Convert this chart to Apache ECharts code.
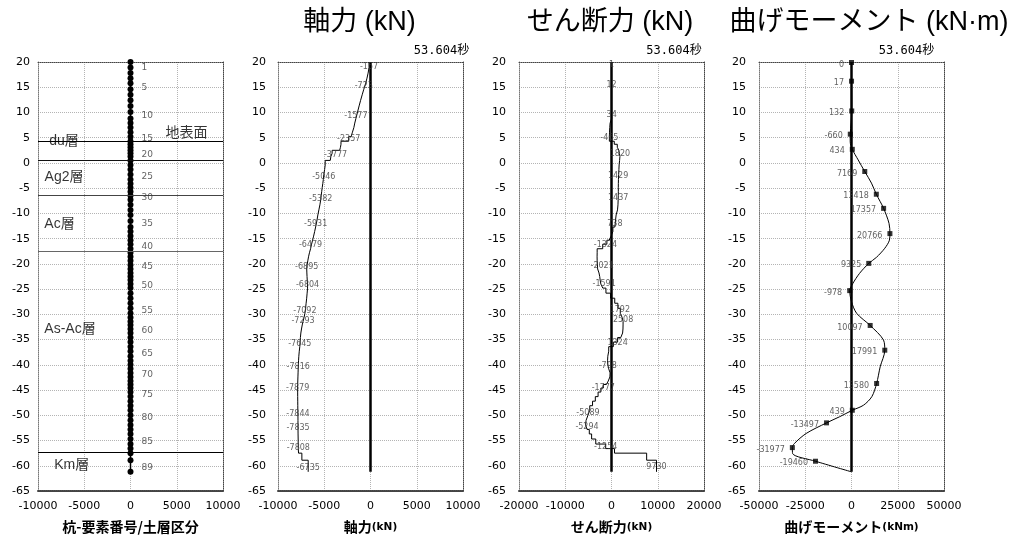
<!DOCTYPE html>
<html><head><meta charset="utf-8">
<script src="https://cdn.jsdelivr.net/npm/echarts@6/dist/echarts.min.js"></script>
<style>html,body{margin:0;padding:0;background:#fff}#c{width:1012px;height:539px}</style>
</head><body><div id="c"></div>
<script>
// ---------- data ----------
const yMin = -65, yMax = 20, yInterval = 5;
const panelTitles = ['軸力 (kN)', 'せん断力 (kN)', '曲げモーメント (kN·m)'];
const timeLabel = '53.604秒';

// node depths of the pile (m), 89 elements -> 90 nodes
const nodeDepths = [20, 18.9, 17.8, 16.8, 15.8, 14.6, 13.5, 12.4, 11.3, 10.1,
  8.8, 7.9, 7.0, 6.1, 5.2, 4.3, 3.7, 3.1, 2.5, 1.9,
  1.3, 0.5, -0.4, -1.3, -2.3, -3.3, -4.1, -4.9, -5.7, -6.5,
  -7.3, -8.3, -9.3, -10.3, -11.5, -12.7, -13.6, -14.5, -15.3, -16.1,
  -17.0, -17.8, -18.6, -19.4, -20.2, -21.0, -21.8, -22.5, -23.2, -24.0,
  -24.8, -25.8, -26.8, -27.8, -28.8, -29.8, -30.6, -31.4, -32.1, -32.9,
  -33.7, -34.6, -35.5, -36.4, -37.3, -38.3, -39.2, -40.0, -40.8, -41.6,
  -42.4, -43.2, -43.9, -44.6, -45.4, -46.3, -47.2, -48.1, -49.0, -50.0,
  -51.0, -51.9, -52.8, -53.7, -54.7, -55.7, -56.6, -57.5, -58.9, -61.2];

const elemLabelNos = [1, 5, 10, 15, 20, 25, 30, 35, 40, 45, 50, 55, 60, 65, 70, 75, 80, 85, 89];
const elemLabelDepths = [18.8, 14.9, 9.3, 4.75, 1.6, -2.8, -6.9, -12.1, -16.6, -20.6, -24.4, -29.3, -33.3, -37.8, -42.0, -45.9, -50.5, -55.2, -60.4];

const layerNames = ['du層', 'Ag2層', 'Ac層', 'As-Ac層', 'Km層'];
const layerLabelX = [-7190, -7190, -7680, -6540, -6360];
const layerLabelY = [4.35, -2.8, -12.1, -32.9, -59.85];
const layerTops = [4.3, 0.6, -6.4, -17.4, -57.3];
const layerLineColors = ['#000', '#111', '#444', '#666', '#000'];
const groundName = '地表面';
const groundX = 6050, groundY = 6.2;

// axial force per element (kN)
const axialVals = [-157, -260, -380, -520, -723, -900, -1070, -1230, -1400, -1577,
  -1700, -1800, -1950, -2100, -2357, -3190, -3250, -3333, -4150, -4280,
  -4350, -4900, -4960, -5046, -5100, -5160, -5220, -5280, -5330, -5382,
  -5470, -5580, -5690, -5800, -5931, -6040, -6150, -6260, -6370, -6479,
  -6600, -6700, -6780, -6850, -6895, -6880, -6860, -6840, -6820, -6804,
  -6850, -6900, -6960, -7020, -7092, -7180, -7293, -7380, -7460, -7530,
  -7580, -7610, -7645, -7700, -7750, -7780, -7800, -7816, -7830, -7845,
  -7860, -7870, -7879, -7875, -7870, -7865, -7860, -7855, -7844, -7840,
  -7838, -7835, -7830, -7820, -7815, -7808, -7780, -7420, -6735];
const axialLabelVals = [-157, -723, -1577, -2357, -3777, -5046, -5382, -5931, -6479, -6895, -6804, -7092, -7293, -7645, -7816, -7879, -7844, -7835, -7808, -6735];
const axialLabelDepths = [19.0, 15.2, 9.3, 4.75, 1.6, -2.8, -7.1, -12.0, -16.2, -20.6, -24.2, -29.3, -31.3, -35.8, -40.4, -44.6, -49.7, -52.5, -56.4, -60.4];

// shear force per element (kN)
const shearVals = [1, 3, 5, 8, 12, 15, 18, 22, 28, 34,
  -300, -380, -430, -450, -465, 600, 1250, 1600, 1700, 1820,
  1750, 1650, 1600, 1550, 1500, 1480, 1470, 1480, 1460, 1437,
  1400, 1300, 1000, 850, 738, 300, -100, -500, -1000, -1900,
  -3100, -3116, -3100, -3050, -3000, -2700, -2550, -2450, -2300, -1880,
  -1200, -200, 700, 1380, 1900, 2300, 2508, 2500, 2480, 2400,
  2000, 1324, 400, -600, -800, -850, -800, -600, -300, -350,
  -700, -1100, -1777, -2300, -2900, -3500, -4100, -4700, -5089, -5500,
  -5600, -5294, -4800, -4300, -3400, -1254, 650, 7600, 9730];
const shearLabelVals = [1, 12, 34, -465, 1820, 1429, 1437, 738, -1324, -2021, -1591, 1792, 2508, 1324, -798, -1777, -5089, -5294, -1254, 9730];
const shearLabelDepths = [19.4, 15.5, 9.5, 4.9, 1.8, -2.6, -7.0, -12.0, -16.2, -20.4, -24.0, -29.1, -31.1, -35.6, -40.2, -44.5, -49.6, -52.3, -56.2, -60.2];

// bending moment (kN·m): curve points and labelled markers
const momentCurveVals = [0, 17, 132, -660, -700, 434, 3600, 7169, 10800, 13418,
  17357, 20300, 20766, 20500, 18000, 13500, 9325, 4300, 700, -978,
  0, 2800, 10097, 17300, 17991, 15500, 13580, 11000, 6500, 439,
  -6500, -13497, -24500, -30900, -31977, -31800, -19460, 0];
const momentCurveDepths = [20, 16.2, 10.3, 5.7, 4.2, 2.7, 0.6, -1.7, -4.0, -6.2,
  -9.0, -12.0, -14.0, -15.3, -16.9, -18.7, -19.9, -21.9, -23.9, -25.3,
  -27.5, -29.8, -32.2, -35.1, -37.1, -40.4, -43.7, -46.3, -48.0, -49.0,
  -50.3, -51.5, -53.6, -55.6, -56.4, -57.6, -59.1, -61.2];
const momentMarkVals = [0, 17, 132, -660, 434, 7169, 13418, 17357, 20766, 9325, -978, 10097, 17991, 13580, 439, -13497, -31977, -19460];
const momentMarkDepths = [19.9, 16.2, 10.3, 5.7, 2.7, -1.7, -6.2, -9.0, -14.0, -19.9, -25.3, -32.2, -37.1, -43.7, -49.0, -51.5, -56.4, -59.1];

const xRanges = [[-10000, 10000, 5000], [-10000, 10000, 5000], [-20000, 20000, 10000], [-50000, 50000, 25000]];
const xNames = [['杭-要素番号/土層区分', ''], ['軸力', '(kN)'], ['せん断力', '(kN)'], ['曲げモーメント', '(kNm)']];

// ---------- layout / style ----------
const gridLefts = [38, 278, 519, 759];
const yLabelMargins = [8, 12, 13, 13];
const LATIN = '"DejaVu Sans", "Noto Sans CJK JP", sans-serif';
const CJK = '"Noto Sans CJK JP", sans-serif';
const dot = [1, 1];

const grids = gridLefts.map(l => ({ left: l, top: 62, width: 185, height: 429 }));
const xAxes = [], yAxes = [];
xRanges.forEach((r, i) => {
  xAxes.push({
    type: 'value', gridIndex: i, min: r[0], max: r[1], interval: r[2], position: 'bottom',
    axisLine: { show: true, onZero: false, lineStyle: { color: '#444', width: 2, type: dot } },
    axisTick: { show: false },
    axisLabel: { margin: 10, fontSize: 11, color: '#000', fontFamily: LATIN, formatter: v => String(v) },
    splitLine: { show: true, lineStyle: { color: '#b4b4b4', width: 1, type: dot } },
    name: '{a|' + xNames[i][0] + '}' + (xNames[i][1] ? '{b|' + xNames[i][1] + '}' : ''),
    nameLocation: 'middle', nameGap: 29,
    nameTextStyle: { rich: {
      a: { fontSize: 14, fontWeight: 'bold', fontFamily: CJK, color: '#000' },
      b: { fontSize: 10.5, fontWeight: 'bold', fontFamily: LATIN, color: '#000' } } }
  });
});
xRanges.forEach((r, i) => {
  xAxes.push({
    type: 'value', gridIndex: i, min: r[0], max: r[1], interval: r[2], position: 'top',
    axisLine: { show: true, onZero: false, lineStyle: { color: '#444', width: 1, type: dot } },
    axisTick: { show: false }, axisLabel: { show: false }, splitLine: { show: false }
  });
});
gridLefts.forEach((l, i) => {
  yAxes.push({
    type: 'value', gridIndex: i, min: yMin, max: yMax, interval: yInterval, position: 'left',
    axisLine: { show: true, onZero: false, lineStyle: { color: '#777', width: 1, type: dot } },
    axisTick: { show: false },
    axisLabel: { margin: yLabelMargins[i], fontSize: 11, color: '#000', fontFamily: LATIN },
    splitLine: { show: true, lineStyle: { color: '#b4b4b4', width: 1, type: dot } }
  });
});
gridLefts.forEach((l, i) => {
  yAxes.push({
    type: 'value', gridIndex: i, min: yMin, max: yMax, interval: yInterval, position: 'right',
    axisLine: { show: true, onZero: false, lineStyle: { color: '#444', width: 1, type: dot } },
    axisTick: { show: false }, axisLabel: { show: false }, splitLine: { show: false }
  });
});

function stepPath(vals) {
  const pts = [];
  vals.forEach((v, i) => { pts.push([v, nodeDepths[i]]); pts.push([v, nodeDepths[i + 1]]); });
  return pts;
}
function pileAxis(i) {
  return { type: 'line', xAxisIndex: i, yAxisIndex: i, silent: true, symbol: 'none',
    data: [[0, nodeDepths[0]], [0, nodeDepths[nodeDepths.length - 1]]],
    lineStyle: { color: '#000', width: 2.5 }, z: 3 };
}
function labels(i, xs, ys, texts, extra) {
  return Object.assign({ type: 'scatter', xAxisIndex: i, yAxisIndex: i, silent: true, symbolSize: 0,
    data: xs.map((x, k) => [x, ys[k]]),
    label: { show: true, position: 'inside', formatter: p => String(texts[p.dataIndex]),
      fontSize: 8, color: '#383838', fontFamily: LATIN }, z: 6 }, extra || {});
}

const series = [
  // panel 1: pile nodes
  { type: 'line', xAxisIndex: 0, yAxisIndex: 0, silent: true,
    data: nodeDepths.map(d => [0, d]), symbol: 'circle', symbolSize: 6,
    itemStyle: { color: '#000' }, lineStyle: { color: '#000', width: 1.5 }, z: 3,
    markLine: { silent: true, symbol: ['none', 'none'], label: { show: false },
      data: layerTops.map((d, k) => ({ yAxis: d, lineStyle: { color: layerLineColors[k], width: 1, type: 'solid' } })) } },
  labels(0, elemLabelNos.map(() => 0), elemLabelDepths, elemLabelNos,
    { label: { show: true, position: 'right', distance: 11, formatter: p => String(elemLabelNos[p.dataIndex]),
      fontSize: 9, color: '#383838', fontFamily: LATIN } }),
  labels(0, layerLabelX, layerLabelY, layerNames,
    { label: { show: true, position: 'inside', formatter: p => layerNames[p.dataIndex],
      fontSize: 14, color: '#000', fontFamily: '"Liberation Sans", "Noto Sans CJK JP", sans-serif' } }),
  labels(0, [groundX], [groundY], [groundName],
    { label: { show: true, position: 'inside', formatter: groundName,
      fontSize: 14, color: '#000', fontFamily: CJK } }),
  // panel 2: axial force
  pileAxis(1),
  { type: 'line', xAxisIndex: 1, yAxisIndex: 1, silent: true, symbol: 'none',
    data: stepPath(axialVals), lineStyle: { color: '#000', width: 1 }, z: 4 },
  labels(1, axialLabelVals, axialLabelDepths, axialLabelVals),
  // panel 3: shear force
  pileAxis(2),
  { type: 'line', xAxisIndex: 2, yAxisIndex: 2, silent: true, symbol: 'none',
    data: stepPath(shearVals), lineStyle: { color: '#000', width: 1 }, z: 4 },
  labels(2, shearLabelVals, shearLabelDepths, shearLabelVals),
  // panel 4: bending moment
  pileAxis(3),
  { type: 'line', xAxisIndex: 3, yAxisIndex: 3, silent: true, symbol: 'none', smooth: 0.3,
    data: momentCurveVals.map((v, k) => [v, momentCurveDepths[k]]), lineStyle: { color: '#000', width: 1 }, z: 4 },
  labels(3, momentMarkVals, momentMarkDepths, momentMarkVals,
    { symbol: 'rect', symbolSize: 5, itemStyle: { color: '#000' },
      label: { show: true, position: 'left', distance: 5, offset: [0, 2], formatter: p => String(momentMarkVals[p.dataIndex]),
        fontSize: 8, color: '#383838', fontFamily: LATIN } })
];

const titleCenters = [359.5, 610, 869];
const timeCenters = [441.5, 674, 906.5];
const titles = [];
panelTitles.forEach((t, k) => titles.push({ text: t, left: titleCenters[k], top: 9, padding: 0, textAlign: 'center',
  textStyle: { fontSize: 27, fontWeight: 'normal', color: '#000', fontFamily: '"Liberation Sans", "Noto Sans CJK JP", sans-serif' } }));
timeCenters.forEach(c => titles.push({ text: timeLabel, left: c, top: 45, padding: 0, textAlign: 'center',
  textStyle: { fontSize: 12, fontWeight: 'normal', color: '#000', fontFamily: '"DejaVu Sans Mono", "Noto Sans CJK JP", monospace' } }));

const chart = echarts.init(document.getElementById('c'), null, { renderer: 'canvas' });
chart.setOption({ animation: false, backgroundColor: '#fff', title: titles, grid: grids, xAxis: xAxes, yAxis: yAxes, series: series });
</script></body></html>
